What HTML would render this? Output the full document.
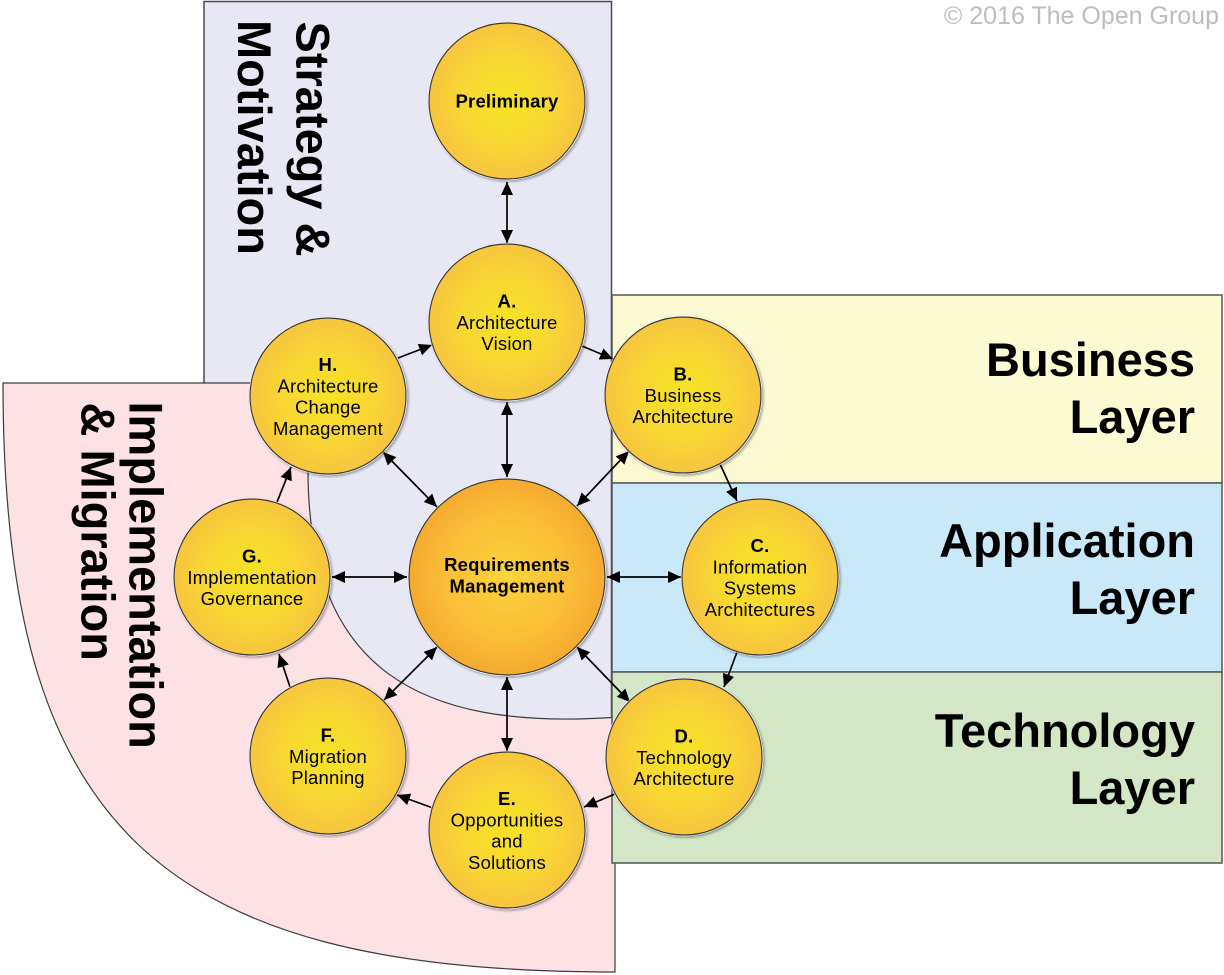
<!DOCTYPE html>
<html>
<head>
<meta charset="utf-8">
<style>
  html,body{margin:0;padding:0;background:#fff;}
  svg{display:block;}
  .big{font-family:"Liberation Sans",Arial,sans-serif;font-weight:bold;font-size:47px;fill:#000;}
  .ct{font-family:"Liberation Sans",Arial,sans-serif;font-size:18.5px;fill:#000;letter-spacing:0.2px;}
  .b{font-weight:bold;}
</style>
</head>
<body>
<svg width="1224" height="975" viewBox="0 0 1224 975" xmlns="http://www.w3.org/2000/svg">
  <defs>
    <radialGradient id="gy" cx="50%" cy="50%" r="50%">
      <stop offset="0%" stop-color="#f6e324"/>
      <stop offset="60%" stop-color="#f8d634"/>
      <stop offset="100%" stop-color="#f7c53e"/>
    </radialGradient>
    <radialGradient id="go" cx="50%" cy="50%" r="50%">
      <stop offset="0%" stop-color="#fbd43c"/>
      <stop offset="60%" stop-color="#f9bf36"/>
      <stop offset="100%" stop-color="#f6aa31"/>
    </radialGradient>
    <filter id="sh" x="-20%" y="-20%" width="140%" height="140%">
      <feDropShadow dx="1.5" dy="1.5" stdDeviation="1.2" flood-color="#000" flood-opacity="0.35"/>
    </filter>
    <marker id="ah" markerUnits="userSpaceOnUse" markerWidth="14" markerHeight="13" refX="13" refY="6" orient="auto-start-reverse">
      <path d="M0,0 L13,6 L0,12 z" fill="#000"/>
    </marker>
  </defs>

  <!-- Copyright -->
  <text x="1219" y="24" text-anchor="end" font-family="Liberation Sans, Arial, sans-serif" font-size="25" fill="#bdbdbd">© 2016 The Open Group</text>

  <!-- Strategy & Motivation box -->
  <rect x="204" y="1.5" width="407.5" height="724" fill="#e8e8f4" stroke="#4a4a4a" stroke-width="1.5"/>

  <!-- Implementation & Migration pink shape -->
  <path d="M3,383 H308 V470 C308,670 420,730 612,717.5 L615,717.5 V972 C156,972 3,825 3,383 Z"
        fill="#fde1e5" stroke="#3c3c3c" stroke-width="1.2"/>

  <!-- Layer boxes -->
  <rect x="612" y="295" width="610" height="188" fill="#fbfad3" stroke="#555" stroke-width="1.5"/>
  <rect x="612" y="483" width="610" height="189" fill="#c9e9f9" stroke="#555" stroke-width="1.5"/>
  <rect x="612" y="672" width="610" height="191" fill="#d3e7c6" stroke="#555" stroke-width="1.5"/>

  <!-- Big labels -->
  <text class="big" transform="translate(296.5,21.5) rotate(90)">Strategy &amp;</text>
  <text class="big" transform="translate(238,20) rotate(90)">Motivation</text>
  <text class="big" transform="translate(129.5,401.5) rotate(90)">Implementation</text>
  <text class="big" transform="translate(81.5,402.5) rotate(90)">&amp; Migration</text>

  <text class="big" x="1195" y="376" text-anchor="end">Business</text>
  <text class="big" x="1195" y="433" text-anchor="end">Layer</text>
  <text class="big" x="1195" y="557" text-anchor="end">Application</text>
  <text class="big" x="1195" y="614" text-anchor="end">Layer</text>
  <text class="big" x="1195" y="747" text-anchor="end">Technology</text>
  <text class="big" x="1195" y="804" text-anchor="end">Layer</text>

  <!-- Connectors -->
  <g stroke="#000" stroke-width="1.7" fill="none">
    <line x1="507" y1="182" x2="507" y2="243" marker-start="url(#ah)" marker-end="url(#ah)"/>
    <line x1="507" y1="402" x2="507" y2="477" marker-start="url(#ah)" marker-end="url(#ah)"/>
    <line x1="507" y1="677" x2="507" y2="751" marker-start="url(#ah)" marker-end="url(#ah)"/>
    <line x1="332" y1="577" x2="407" y2="577" marker-start="url(#ah)" marker-end="url(#ah)"/>
    <line x1="607" y1="577" x2="681" y2="577" marker-start="url(#ah)" marker-end="url(#ah)"/>
    <line x1="383" y1="452" x2="437" y2="507" marker-start="url(#ah)" marker-end="url(#ah)"/>
    <line x1="629" y1="451" x2="577" y2="506" marker-start="url(#ah)" marker-end="url(#ah)"/>
    <line x1="384" y1="700" x2="437" y2="647" marker-start="url(#ah)" marker-end="url(#ah)"/>
    <line x1="630" y1="702" x2="577" y2="647" marker-start="url(#ah)" marker-end="url(#ah)"/>
    <line x1="398" y1="358" x2="432" y2="345" marker-end="url(#ah)"/>
    <line x1="582" y1="346" x2="613" y2="359" marker-end="url(#ah)"/>
    <line x1="720" y1="464" x2="737" y2="501" marker-end="url(#ah)"/>
    <line x1="737" y1="652" x2="724" y2="687" marker-end="url(#ah)"/>
    <line x1="615" y1="794" x2="584" y2="807" marker-end="url(#ah)"/>
    <line x1="433" y1="808" x2="397" y2="795" marker-end="url(#ah)"/>
    <line x1="290" y1="687" x2="279" y2="654" marker-end="url(#ah)"/>
    <line x1="277" y1="502" x2="291" y2="467" marker-end="url(#ah)"/>
  </g>

  <!-- Circles -->
  <g filter="url(#sh)">
    <circle cx="507" cy="101" r="79.2" fill="#fff"/>
    <circle cx="507" cy="322" r="79.2" fill="#fff"/>
    <circle cx="683" cy="395" r="79.2" fill="#fff"/>
    <circle cx="760" cy="577" r="79.2" fill="#fff"/>
    <circle cx="684" cy="757" r="79.2" fill="#fff"/>
    <circle cx="507" cy="830" r="79.2" fill="#fff"/>
    <circle cx="328" cy="756" r="79.2" fill="#fff"/>
    <circle cx="252" cy="577" r="79.2" fill="#fff"/>
    <circle cx="328" cy="396" r="79.2" fill="#fff"/>
    <circle cx="507" cy="577" r="99.2" fill="#fff"/>
  </g>
  <g stroke="#3a3a3a" stroke-width="1.2">
    <circle cx="507" cy="101" r="78" fill="url(#gy)"/>
    <circle cx="507" cy="322" r="78" fill="url(#gy)"/>
    <circle cx="683" cy="395" r="78" fill="url(#gy)"/>
    <circle cx="760" cy="577" r="78" fill="url(#gy)"/>
    <circle cx="684" cy="757" r="78" fill="url(#gy)"/>
    <circle cx="507" cy="830" r="78" fill="url(#gy)"/>
    <circle cx="328" cy="756" r="78" fill="url(#gy)"/>
    <circle cx="252" cy="577" r="78" fill="url(#gy)"/>
    <circle cx="328" cy="396" r="78" fill="url(#gy)"/>
    <circle cx="507" cy="577" r="98" fill="url(#go)"/>
  </g>

  <!-- Circle texts -->
  <g class="ct" text-anchor="middle">
    <text x="507" y="107.5" class="b">Preliminary</text>

    <text x="507" y="307.5"><tspan class="b">A.</tspan><tspan x="507" dy="21.3">Architecture</tspan><tspan x="507" dy="21.3">Vision</tspan></text>

    <text x="328" y="371"><tspan class="b">H.</tspan><tspan x="328" dy="21.3">Architecture</tspan><tspan x="328" dy="21.3">Change</tspan><tspan x="328" dy="21.3">Management</tspan></text>

    <text x="683" y="380.5"><tspan class="b">B.</tspan><tspan x="683" dy="21.3">Business</tspan><tspan x="683" dy="21.3">Architecture</tspan></text>

    <text x="760" y="552"><tspan class="b">C.</tspan><tspan x="760" dy="21.3">Information</tspan><tspan x="760" dy="21.3">Systems</tspan><tspan x="760" dy="21.3">Architectures</tspan></text>

    <text x="684" y="742.5"><tspan class="b">D.</tspan><tspan x="684" dy="21.3">Technology</tspan><tspan x="684" dy="21.3">Architecture</tspan></text>

    <text x="507" y="805"><tspan class="b">E.</tspan><tspan x="507" dy="21.3">Opportunities</tspan><tspan x="507" dy="21.3">and</tspan><tspan x="507" dy="21.3">Solutions</tspan></text>

    <text x="328" y="741.5"><tspan class="b">F.</tspan><tspan x="328" dy="21.3">Migration</tspan><tspan x="328" dy="21.3">Planning</tspan></text>

    <text x="252" y="562.5"><tspan class="b">G.</tspan><tspan x="252" dy="21.3">Implementation</tspan><tspan x="252" dy="21.3">Governance</tspan></text>

    <text x="507" y="571" class="b"><tspan x="507">Requirements</tspan><tspan x="507" dy="21.3">Management</tspan></text>
  </g>
</svg>
</body>
</html>
